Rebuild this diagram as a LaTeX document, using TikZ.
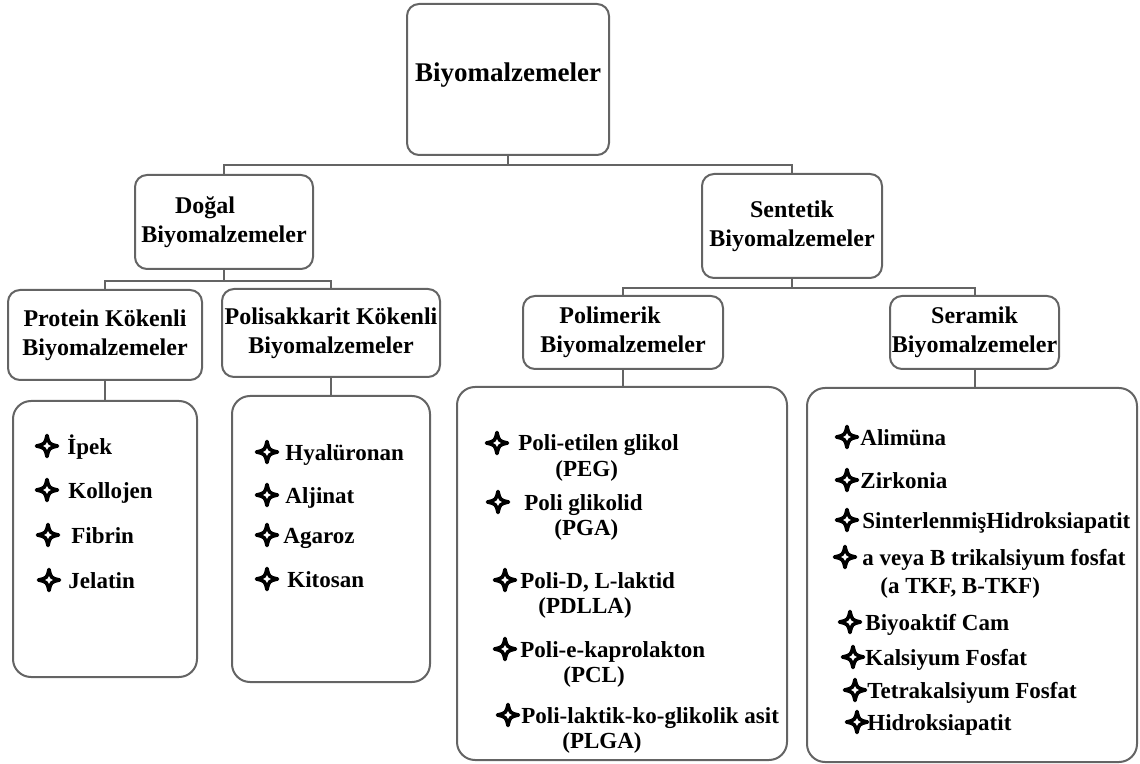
\documentclass[tikz,border=0pt]{standalone}
\usepackage{fontspec}
\setmainfont{Liberation Serif}
\definecolor{boxline}{RGB}{100,100,100}

\begin{document}
\begin{tikzpicture}[
        x=0.5pt,
        y=-0.5pt,
        class box/.style={
            draw=boxline,line width=1pt,rounded corners=6pt,align=center,
            inner sep=0pt,font=\bfseries\fontsize{12}{14.5}\selectfont
        },
        list box/.style={draw=boxline,line width=1pt,rounded corners=9pt,inner sep=0pt},
        link/.style={draw=boxline,line width=1pt},
        list item/.style={
            anchor=west,inner sep=0pt,text height=8pt,text depth=0pt,
            font=\bfseries\fontsize{11.5}{13.5}\selectfont
        },
        bullet star/.pic={
            \draw[line width=1.8pt,line join=round]
                (0,-10.5) .. controls (2,-2) .. (10.5,0)
                .. controls (2,2) .. (0,10.5)
                .. controls (-2,2) .. (-10.5,0)
                .. controls (-2,-2) .. cycle;
        }
    ]
        \useasboundingbox (0,0) rectangle (1140,764);

        % The root and the two main classes.
        \node[class box,minimum width=101pt,minimum height=75.5pt,text depth=7pt,
            font=\bfseries\fontsize{13.5}{16}\selectfont] (root) at (508,79.5) {Biyomalzemeler};
        \node[class box,minimum width=89pt,minimum height=47pt] (dogal) at (224,222)
            {Doğal\hspace*{19pt}\\Biyomalzemeler};
        \node[class box,minimum width=90pt,minimum height=52pt] (sentetik) at (792,226)
            {Sentetik\\Biyomalzemeler};

        % Sub-classes.
        \node[class box,minimum width=97pt,minimum height=45pt] (protein) at (105,335)
            {Protein Kökenli\\Biyomalzemeler};
        \node[class box,minimum width=109pt,minimum height=44pt] (polisakkarit) at (331,333)
            {Polisakkarit Kökenli\\Biyomalzemeler};
        \node[class box,minimum width=100pt,minimum height=36.5pt] (polimerik) at (623,332.5)
            {Polimerik\hspace*{13pt}\\Biyomalzemeler};
        \node[class box,minimum width=84.5pt,minimum height=36.5pt] (seramik) at (974.5,332.5)
            {Seramik\\Biyomalzemeler};

        % The lists of examples.
        \node[list box,minimum width=92pt,minimum height=138pt] (proteinlist) at (105,539) {};
        \node[list box,minimum width=99pt,minimum height=143pt] (polisakkaritlist) at (331,539) {};
        \node[list box,minimum width=165pt,minimum height=186.5pt] (polimeriklist) at (622,573.5) {};
        \node[list box,minimum width=165pt,minimum height=187pt] (seramiklist) at (972,575) {};

        % Connectors.
        \draw[link] (root.south) -- ++(0,9) -| (dogal.north);
        \draw[link] (root.south) -- ++(0,9) -| (sentetik.north);
        \draw[link] (dogal.south) -- ++(0,11) -| (protein.north);
        \draw[link] (dogal.south) -- ++(0,11) -| (polisakkarit.north);
        \draw[link] (sentetik.south) -- ++(0,9) -| (polimerik.north);
        \draw[link] (sentetik.south) -- ++(0,9) -| (seramik.north);
        \draw[link] (protein.south) -- (protein.south |- proteinlist.north);
        \draw[link] (polisakkarit.south) -- (polisakkarit.south |- polisakkaritlist.north);
        \draw[link] (polimerik.south) -- (polimerik.south |- polimeriklist.north);
        \draw[link] (seramik.south) -- (seramik.south |- seramiklist.north);

        % Protein based.
        \foreach \sx/\tx/\ty/\itemtext [count=\n] in
            {47/67/446/İpek, 47/68/490/Kollojen, 48/71/535/Fibrin, 49/68/580/Jelatin} {
            \pic at (\sx,\ty) {bullet star};
            \node[list item] (proteinitem\n) at (\tx,\ty) {\itemtext};
        }

        % Polysaccharide based.
        \foreach \sx/\tx/\ty/\itemtext [count=\n] in
            {267/285/452/Hyalüronan, 267/285/495/Aljinat, 267/283/535/Agaroz, 267/287/579/Kitosan} {
            \pic at (\sx,\ty) {bullet star};
            \node[list item] (polisakkaritem\n) at (\tx,\ty) {\itemtext};
        }

        % Polymers, each with its short name below.
        \foreach \sx/\tx/\ty/\itemtext/\subx/\subtext [count=\n] in
            {497/518/443/{Poli-etilen glikol}/555/(PEG),
             498/524/502/{Poli glikolid}/554/(PGA),
             505/520/580/{Poli-D, L-laktid}/538/(PDLLA),
             505/520/649/{Poli-e-kaprolakton}/563/(PCL),
             508/521/715/{Poli-laktik-ko-glikolik asit}/562/(PLGA)} {
            \pic at (\sx,\ty) {bullet star};
            \node[list item] (polimeritem\n) at (\tx,\ty) {\itemtext};
            \node[list item] (polimershort\n) at (\subx,\ty+25) {\subtext};
        }

        % Ceramics.
        \foreach \sx/\tx/\ty/\itemtext [count=\n] in
            {847/860/437/Alimüna, 847/860/480/Zirkonia, 847/862/520/SinterlenmişHidroksiapatit,
             845/862/557/{a veya B trikalsiyum fosfat}, 850/865/622/{Biyoaktif Cam},
             853/865/657/{Kalsiyum Fosfat}, 855/867/690/{Tetrakalsiyum Fosfat},
             857/867/722/Hidroksiapatit} {
            \pic at (\sx,\ty) {bullet star};
            \node[list item] (seramitem\n) at (\tx,\ty) {\itemtext};
        }
        \node[list item] (seramshort) at (880,585) {(a TKF, B-TKF)};
    \end{tikzpicture}
\end{document}
